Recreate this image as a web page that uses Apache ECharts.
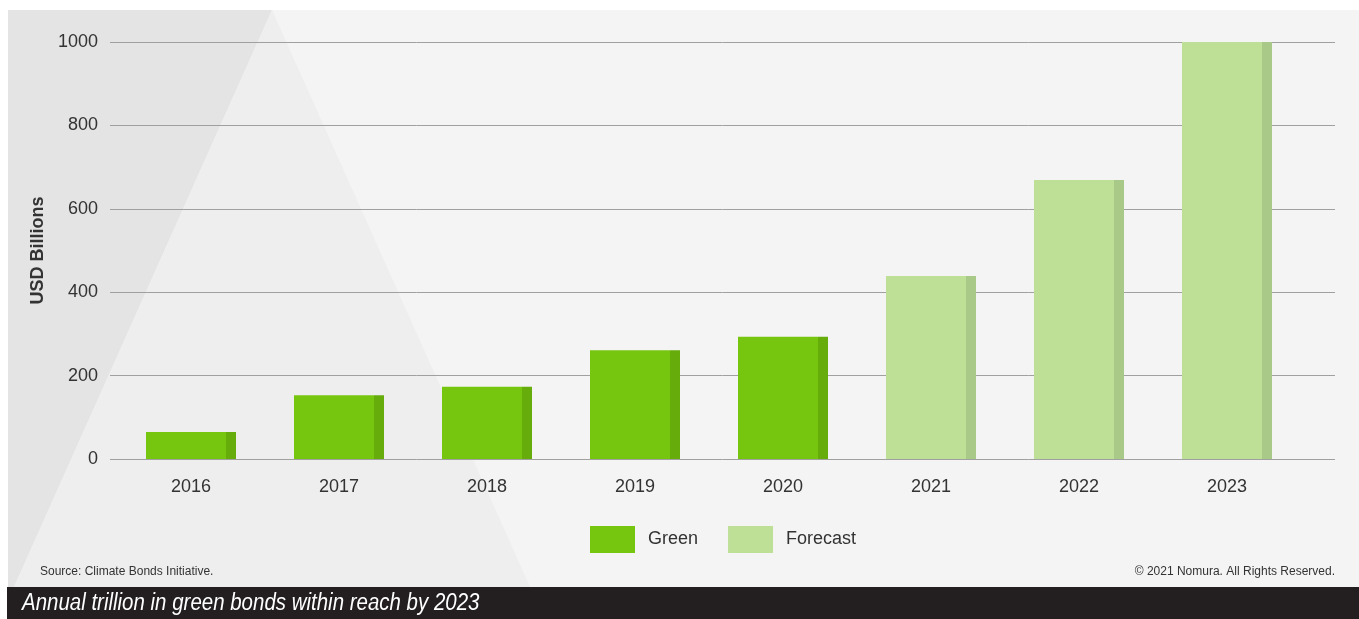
<!DOCTYPE html>
<html lang="en">
  <head>
    <meta charset="UTF-8" />
    <title>Annual trillion in green bonds within reach by 2023</title>
    <script src="https://cdn.jsdelivr.net/npm/echarts@6/dist/echarts.min.js"></script>
    <style>
      * { margin: 0; padding: 0; box-sizing: border-box; }
      body { background: #ffffff; width: 1359px; height: 619px; overflow: hidden; }
      #chart { width: 1359px; height: 619px; }
    </style>
  </head>
  <body>
    <div id="chart"></div>
    <script>
      /* ---------- data ---------- */
      const years = ["2016", "2017", "2018", "2019", "2020", "2021", "2022", "2023"];
      const greenValues = [65, 153, 173, 261, 293, null, null, null];
      const forecastValues = [null, null, null, null, null, 439, 669, 1000];
      const yTicks = { min: 0, max: 1000, interval: 200 };

      /* ---------- helpers ---------- */
      const font = "'Liberation Sans', Arial, Helvetica, sans-serif";
      const sideShade = (main, dark) => ({
        type: "linear", x: 0, y: 0, x2: 1, y2: 0,
        colorStops: [
          { offset: 0, color: main },
          { offset: 0.889, color: main },
          { offset: 0.889, color: dark },
          { offset: 1, color: dark },
        ],
      });

      const chart = echarts.init(document.getElementById("chart"), null, { renderer: "canvas" });

      const option = {
        animation: false,
        textStyle: { fontFamily: font },
        graphic: [
          { type: "rect", z: -100, silent: true, shape: { x: 8, y: 10, width: 1351, height: 577 }, style: { fill: "#f4f4f4" } },
          { type: "polygon", z: -99, silent: true, shape: { points: [[8, 10], [272, 10], [14, 587], [8, 587]] }, style: { fill: "#e4e4e4" } },
          { type: "polygon", z: -99, silent: true, shape: { points: [[272, 10], [530, 587], [14, 587]] }, style: { fill: "#eeeeee" } },
          { type: "rect", z: 10, silent: true, shape: { x: 7, y: 587, width: 1352, height: 32 }, style: { fill: "#231f20" } },
          {
            // narrow italic title, squeezed horizontally
            type: "text", z: 11, x: 22, y: 604, scaleX: 0.89,
            style: {
              text: "Annual trillion in green bonds within reach by 2023",
              fill: "#ffffff",
              verticalAlign: "middle",
              font: "italic 23px " + font,
            },
          },
          {
            type: "text", left: 40, top: 566,
            style: { text: "Source: Climate Bonds Initiative.", fill: "#333333", font: "12px " + font },
          },
          {
            type: "text", right: 24, top: 566,
            style: { text: "\u00a9 2021 Nomura. All Rights Reserved.", fill: "#333333", font: "12px " + font },
          },
        ],
        legend: {
          left: 585,
          top: 521,
          itemWidth: 45,
          itemHeight: 27,
          itemGap: 30,
          icon: "rect",
          textStyle: { fontSize: 18, color: "#333333", padding: [2, 0, 0, 8] },
          data: [
            { name: "Green", itemStyle: { color: "#76c50f" } },
            { name: "Forecast", itemStyle: { color: "#bde096" } },
          ],
        },
        grid: [
          { left: 110, right: 24, top: 42, bottom: 160 },
          { left: 117, right: 58, top: 42, bottom: 160 },
        ],
        xAxis: [
          { gridIndex: 0, type: "value", min: 0, max: 1, show: false },
          {
            gridIndex: 1,
            type: "category",
            data: years,
            axisLine: { show: false },
            axisTick: { show: false },
            axisLabel: { color: "#333333", fontSize: 18, margin: 19 },
          },
        ],
        yAxis: [
          {
            gridIndex: 0,
            type: "value",
            min: yTicks.min,
            max: yTicks.max,
            interval: yTicks.interval,
            name: "USD Billions",
            nameLocation: "middle",
            nameGap: 60,
            nameTextStyle: { color: "#333333", fontSize: 18, fontWeight: "bold" },
            axisLine: { show: false },
            axisTick: { show: false },
            axisLabel: { color: "#333333", fontSize: 18, margin: 12, formatter: (v) => String(v) },
            splitLine: { lineStyle: { color: "#a0a0a0", width: 1 } },
          },
          { gridIndex: 1, type: "value", min: yTicks.min, max: yTicks.max, show: false },
        ],
        series: [
          {
            name: "Green",
            type: "bar",
            xAxisIndex: 1,
            yAxisIndex: 1,
            barWidth: 90,
            barGap: "-100%",
            data: greenValues,
            itemStyle: { color: sideShade("#76c50f", "#66ac0b") },
          },
          {
            name: "Forecast",
            type: "bar",
            xAxisIndex: 1,
            yAxisIndex: 1,
            barWidth: 90,
            barGap: "-100%",
            data: forecastValues,
            itemStyle: { color: sideShade("#bde096", "#a8c987") },
          },
        ],
      };

      chart.setOption(option);
    </script>
  </body>
</html>
